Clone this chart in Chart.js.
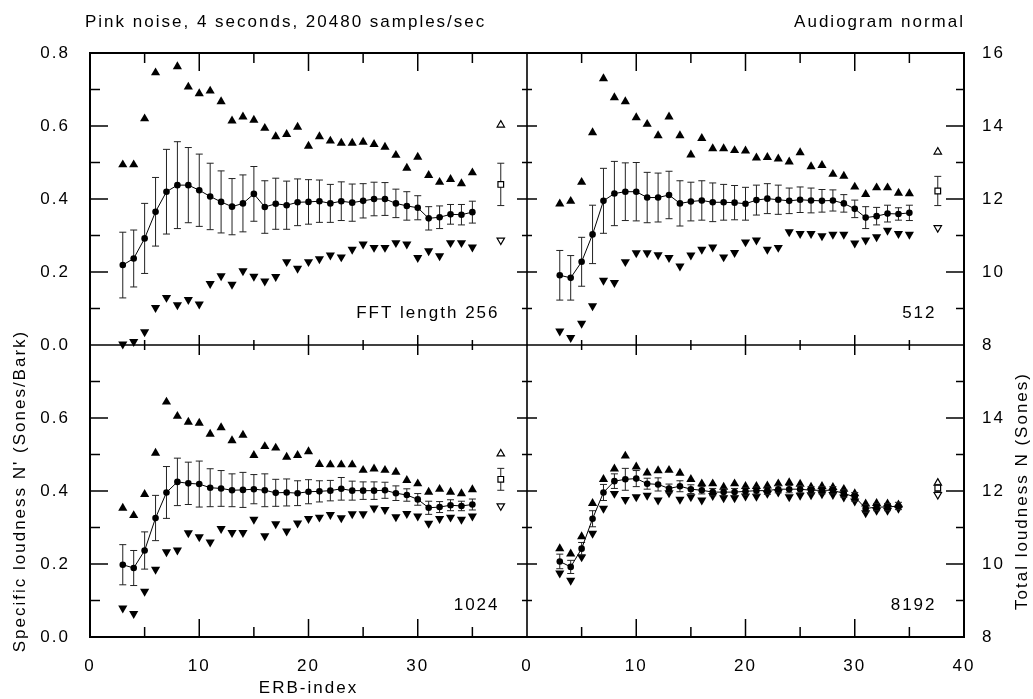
<!DOCTYPE html>
<html><head><meta charset="utf-8">
<script src="https://cdn.jsdelivr.net/npm/chart.js@4.4.1/dist/chart.umd.min.js"></script>
<style>html,body{margin:0;padding:0;background:#fff;}#wrap{position:relative;width:1033px;height:699px;}</style>
</head><body><div id="wrap"><canvas id="c" width="1033" height="699"></canvas></div>
<script>
// ---------- data ----------
const erbIndex = [3,4,5,6,7,8,9,10,11,12,13,14,15,16,17,18,19,20,21,22,23,24,25,26,27,28,29,30,31,32,33,34,35];
const erbIndex8192 = [3,4,5,6,7,8,9,10,11,12,13,14,15,16,17,18,19,20,21,22,23,24,25,26,27,28,29,30,31,32,33,34];

const mean256 = [0.219,0.237,0.292,0.365,0.420,0.438,0.438,0.424,0.407,0.392,0.379,0.388,0.414,0.378,0.387,0.383,0.391,0.392,0.394,0.388,0.394,0.390,0.395,0.400,0.400,0.388,0.381,0.376,0.347,0.350,0.358,0.357,0.364];
const sd256   = [0.090,0.078,0.096,0.094,0.116,0.119,0.103,0.099,0.091,0.085,0.077,0.078,0.075,0.072,0.070,0.066,0.064,0.061,0.058,0.052,0.053,0.051,0.047,0.046,0.045,0.039,0.039,0.033,0.032,0.031,0.027,0.028,0.030];
const max256  = [0.494,0.494,0.620,0.746,0.841,0.763,0.707,0.689,0.696,0.667,0.614,0.625,0.616,0.594,0.571,0.577,0.597,0.545,0.571,0.559,0.553,0.553,0.556,0.550,0.542,0.520,0.485,0.515,0.465,0.446,0.454,0.442,0.472];
const min256  = [0.002,0.009,0.036,0.102,0.130,0.110,0.124,0.112,0.168,0.189,0.166,0.203,0.188,0.175,0.187,0.228,0.210,0.228,0.236,0.246,0.241,0.262,0.276,0.267,0.267,0.280,0.276,0.239,0.258,0.244,0.280,0.280,0.268];

const mean512 = [0.191,0.184,0.228,0.303,0.395,0.415,0.420,0.420,0.404,0.404,0.411,0.388,0.393,0.396,0.391,0.391,0.390,0.387,0.397,0.401,0.398,0.395,0.398,0.396,0.395,0.396,0.388,0.373,0.349,0.353,0.360,0.359,0.362];
const sd512   = [0.068,0.061,0.067,0.080,0.089,0.088,0.079,0.080,0.069,0.067,0.065,0.062,0.053,0.054,0.053,0.049,0.047,0.045,0.041,0.041,0.040,0.035,0.035,0.034,0.031,0.029,0.024,0.024,0.030,0.024,0.023,0.017,0.021];
const max512  = [0.387,0.394,0.446,0.582,0.730,0.678,0.667,0.623,0.605,0.574,0.625,0.574,0.521,0.566,0.538,0.538,0.533,0.532,0.513,0.514,0.510,0.502,0.527,0.489,0.492,0.468,0.463,0.433,0.413,0.431,0.431,0.416,0.415];
const min512  = [0.038,0.020,0.059,0.107,0.177,0.171,0.228,0.252,0.252,0.247,0.239,0.216,0.246,0.262,0.268,0.241,0.253,0.282,0.287,0.262,0.267,0.310,0.305,0.305,0.299,0.303,0.303,0.279,0.287,0.296,0.314,0.305,0.303];

const mean1024 = [0.198,0.189,0.237,0.326,0.396,0.425,0.421,0.419,0.409,0.407,0.402,0.403,0.405,0.402,0.395,0.396,0.394,0.398,0.399,0.401,0.406,0.401,0.401,0.401,0.402,0.394,0.389,0.377,0.354,0.356,0.361,0.359,0.363];
const sd1024   = [0.055,0.048,0.051,0.062,0.071,0.065,0.058,0.063,0.052,0.049,0.045,0.048,0.040,0.045,0.037,0.037,0.034,0.033,0.029,0.028,0.031,0.026,0.024,0.024,0.022,0.020,0.017,0.016,0.018,0.015,0.015,0.013,0.015];
const max1024  = [0.353,0.333,0.391,0.504,0.644,0.605,0.589,0.586,0.556,0.574,0.538,0.553,0.498,0.522,0.518,0.493,0.498,0.508,0.473,0.472,0.472,0.472,0.457,0.461,0.457,0.452,0.429,0.420,0.397,0.405,0.397,0.393,0.404];
const min1024  = [0.079,0.064,0.125,0.185,0.233,0.238,0.285,0.274,0.260,0.297,0.286,0.286,0.322,0.277,0.310,0.290,0.312,0.324,0.328,0.335,0.326,0.337,0.337,0.353,0.349,0.329,0.338,0.331,0.311,0.324,0.328,0.322,0.331];

const mean8192 = [0.207,0.192,0.242,0.324,0.396,0.427,0.432,0.434,0.420,0.418,0.407,0.413,0.405,0.402,0.397,0.397,0.397,0.399,0.401,0.401,0.405,0.405,0.405,0.402,0.402,0.402,0.393,0.384,0.352,0.356,0.356,0.359];
const sd8192   = [0.020,0.018,0.017,0.022,0.022,0.020,0.030,0.022,0.015,0.018,0.012,0.015,0.012,0.010,0.010,0.010,0.010,0.010,0.010,0.010,0.010,0.010,0.010,0.010,0.010,0.010,0.010,0.012,0.010,0.010,0.010,0.010];
const max8192  = [0.242,0.228,0.275,0.366,0.432,0.461,0.496,0.466,0.450,0.456,0.457,0.449,0.432,0.420,0.420,0.411,0.420,0.413,0.413,0.414,0.420,0.423,0.419,0.411,0.413,0.410,0.405,0.393,0.365,0.366,0.365,0.362];
const min8192  = [0.175,0.155,0.219,0.284,0.352,0.393,0.376,0.384,0.388,0.375,0.395,0.377,0.384,0.375,0.387,0.381,0.381,0.386,0.385,0.393,0.397,0.384,0.388,0.389,0.392,0.390,0.383,0.372,0.340,0.347,0.347,0.352];

// total loudness N (Sones), one per panel: 256, 512, 1024, 8192
const totalErb  = 37.6;
const totalMax  = [14.03, 13.29, 13.02, 12.22];
const totalMean = [12.40, 12.22, 12.32, 12.08];
const totalSd   = [0.58, 0.40, 0.30, 0.10];
const totalMin  = [10.87, 11.21, 11.59, 11.90];

const panelLabels = ['FFT length 256', '512', '1024', '8192'];
const xTickValues = [0,5,10,15,20,25,30,35,40];
const yTickValues = [0.1,0.2,0.3,0.4,0.5,0.6,0.7];
const nTickValues = [9,10,11,12,13,14,15];

// ---------- build ----------
const FONT = "'Liberation Sans', Arial, sans-serif";
Chart.defaults.font.family = FONT;
Chart.defaults.font.size = 17;
Chart.defaults.color = '#000';

const panels = [
  {x:'xL', y:'yT', n:'nT', erb:erbIndex,     mean:mean256,  sd:sd256,  max:max256,  min:min256},
  {x:'xR', y:'yT', n:'nT', erb:erbIndex,     mean:mean512,  sd:sd512,  max:max512,  min:min512},
  {x:'xL', y:'yB', n:'nB', erb:erbIndex,     mean:mean1024, sd:sd1024, max:max1024, min:min1024},
  {x:'xR', y:'yB', n:'nB', erb:erbIndex8192, mean:mean8192, sd:sd8192, max:max8192, min:min8192}
];

const datasets = [];
panels.forEach((p, i) => {
  const b = {xAxisID:p.x, yAxisID:p.y, clip:false};
  const bn = {xAxisID:p.x, yAxisID:p.n, clip:false};
  const pts = ys => p.erb.map((x,k) => ({x, y:ys[k]}));
  const tLo = totalMean[i]-totalSd[i], tHi = totalMean[i]+totalSd[i];
  datasets.push(
    {...bn, data:[{x:totalErb, y:totalMean[i]}], pointStyle:'rect', pointRadius:4, pointBackgroundColor:'#fff', pointBorderColor:'#000', pointBorderWidth:1.2},
    {...bn, data:[{x:totalErb, y:tLo},{x:totalErb, y:tHi}], showLine:true, pointRadius:0, borderColor:'#222', borderWidth:1},
    {...bn, data:[{x:totalErb, y:tLo},{x:totalErb, y:tHi}], pointStyle:'line', pointRadius:3.5, pointBorderColor:'#222', pointBorderWidth:1},
    {...bn, data:[{x:totalErb, y:totalMax[i]}], pointStyle:'triangle', pointRadius:4.3, pointBackgroundColor:'#fff', pointBorderColor:'#000', pointBorderWidth:1.2},
    {...bn, data:[{x:totalErb, y:totalMin[i]}], pointStyle:'triangle', pointRotation:180, pointRadius:4.3, pointBackgroundColor:'#fff', pointBorderColor:'#000', pointBorderWidth:1.2},
    {...b, data:pts(p.mean), showLine:true, borderColor:'#000', borderWidth:1, pointStyle:'circle', pointRadius:3.3, pointBackgroundColor:'#000', pointBorderWidth:0},
    {...b, data:p.erb.flatMap((x,k)=>[{x, y:p.mean[k]-p.sd[k]},{x, y:p.mean[k]+p.sd[k]}]), pointStyle:'line', pointRadius:3.5, pointBorderColor:'#222', pointBorderWidth:1},
    {...b, data:p.erb.flatMap((x,k)=>[{x, y:p.mean[k]-p.sd[k]},{x, y:p.mean[k]+p.sd[k]},{x, y:null}]), showLine:true, spanGaps:false, pointRadius:0, borderColor:'#222', borderWidth:1},
    {...b, data:pts(p.max), pointStyle:'triangle', pointRadius:5.3, pointBackgroundColor:'#000', pointBorderWidth:0},
    {...b, data:pts(p.min), pointStyle:'triangle', pointRotation:180, pointRadius:5.3, pointBackgroundColor:'#000', pointBorderWidth:0}
  );
});

const noGrid = {display:false, drawTicks:false};
const noBorder = {display:false};
function xScale(hideLast, title) {
  return {type:'linear', axis:'x', position:'bottom', stack:'erb', min:0, max:40,
    grid:noGrid, border:noBorder,
    ticks:{stepSize:10, autoSkip:false, maxRotation:0, padding:19,
      callback:v => (hideLast && v >= 40) ? '' : String(v)},
    title: title ? {display:true, text:title, padding:{top:0,bottom:0}} : {display:false},
    afterFit:s => { s.height = 62; }};
}
function yScale(hideTop, title) {
  return {type:'linear', axis:'y', position:'left', stack:'spec', min:0, max:0.8,
    grid:noGrid, border:noBorder,
    ticks:{stepSize:0.2, autoSkip:false, padding:20,
      callback:v => (hideTop && v > 0.79) ? '' : v.toFixed(1)},
    title: title ? {display:true, text:title, padding:{top:10,bottom:0}} : {display:false},
    afterFit:s => { s.width = 90; }};
}
function nScale(hideTop) {
  return {type:'linear', axis:'y', position:'right', stack:'tot', min:8, max:16,
    grid:noGrid, border:noBorder,
    ticks:{stepSize:2, autoSkip:false, padding:18,
      callback:v => (hideTop && v > 15.9) ? '' : String(Math.round(v))},
    afterFit:s => { s.width = 69; }};
}

function seg(ctx, x1, y1, x2, y2) {
  ctx.beginPath(); ctx.moveTo(x1, y1); ctx.lineTo(x2, y2); ctx.stroke();
}

const framePlugin = {
  id:'frame',
  beforeDraw(chart){ chart.ctx.letterSpacing = '2px'; },
  afterDraw(chart){
    const ctx = chart.ctx, a = chart.chartArea, S = chart.scales;
    const xL = S.xL, xR = S.xR, yT = S.yT, yB = S.yB, nT = S.nT, nB = S.nB;
    const midX = xL.right, midY = yT.bottom;
    ctx.save();
    ctx.setLineDash([]);
    ctx.strokeStyle = '#000000';
    ctx.lineWidth = 1.5;
    // inward ticks on outer edges and on both sides of the dividing lines
    [xL, xR].forEach(xs => {
      xTickValues.forEach(v => {
        if (v <= 0 || v >= 40) return;
        const px = xs.getPixelForValue(v);
        const major = (v % 10) === 0;
        const lo = major ? 18 : 10, lm = major ? 10 : 5;
        seg(ctx, px, a.top, px, a.top + lo);
        seg(ctx, px, a.bottom, px, a.bottom - lo);
        seg(ctx, px, midY - lm, px, midY + lm);
      });
    });
    [yT, yB].forEach(ys => {
      yTickValues.forEach(v => {
        const py = ys.getPixelForValue(v);
        const major = Math.round(v * 10) % 2 === 0;
        seg(ctx, a.left, py, a.left + (major ? 18 : 10), py);
        seg(ctx, midX - (major ? 10 : 5), py, midX + (major ? 10 : 5), py);
      });
    });
    [nT, nB].forEach(ns => {
      nTickValues.forEach(v => {
        const py = ns.getPixelForValue(v);
        const major = v % 2 === 0;
        seg(ctx, a.right, py, a.right - (major ? 18 : 8), py);
      });
    });
    // frame
    ctx.lineWidth = 2;
    ctx.strokeRect(a.left, a.top, a.right - a.left, a.bottom - a.top);
    ctx.lineWidth = 1.6;
    seg(ctx, midX, a.top, midX, a.bottom);
    seg(ctx, a.left, midY, a.right, midY);

    // texts
    ctx.fillStyle = '#000';
    ctx.font = "17px " + FONT;
    ctx.letterSpacing = '2px';
    ctx.textBaseline = 'middle';
    ctx.textAlign = 'left';
    ctx.fillText('Pink noise, 4 seconds, 20480 samples/sec', 85, 22);
    ctx.textAlign = 'right';
    ctx.fillText('Audiogram normal', 965, 22);
    panels.forEach((p, i) => {
      const xs = S[p.x], ys = S[p.y];
      ctx.fillText(panelLabels[i], xs.getPixelForValue(37.3) + 2, ys.getPixelForValue(0.088));
    });
    ctx.save();
    ctx.translate(1022, (nB.top + nB.bottom) / 2);
    ctx.rotate(-Math.PI / 2);
    ctx.textAlign = 'center';
    ctx.fillText('Total loudness N (Sones)', 0, 0);
    ctx.restore();
    ctx.restore();
  }
};

new Chart(document.getElementById('c'), {
  type:'scatter',
  data:{datasets},
  options:{
    responsive:false, animation:false, events:[],
    layout:{padding:{top:53, left:0, right:0, bottom:0}},
    plugins:{legend:{display:false}, tooltip:{enabled:false}},
    scales:{
      xL: xScale(true, 'ERB-index'),
      xR: xScale(false, null),
      yB: yScale(true, "Specific loudness N' (Sones/Bark)"),
      yT: yScale(false, null),
      nT: nScale(false),
      nB: nScale(true)
    }
  },
  plugins:[framePlugin]
});
</script>
</body></html>
